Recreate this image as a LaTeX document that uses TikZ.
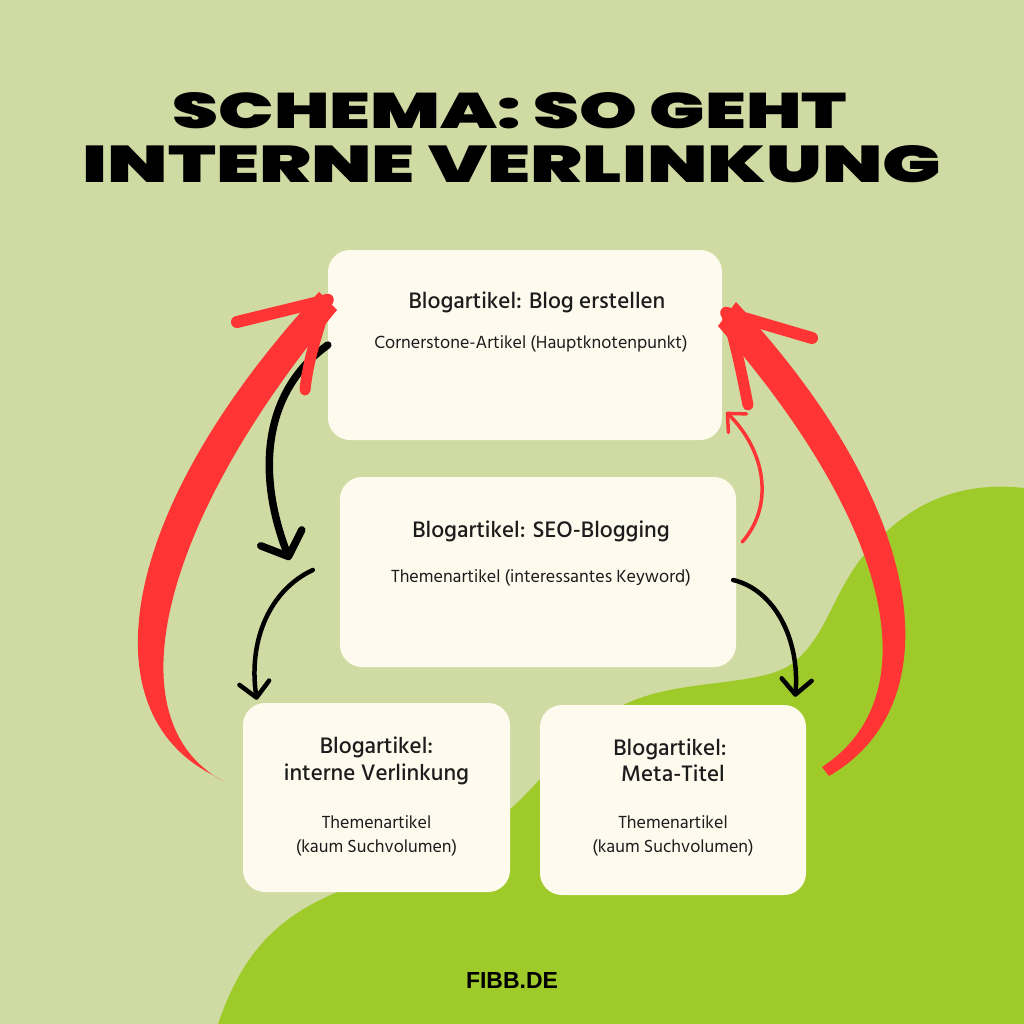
\documentclass[tikz,border=0pt]{standalone}
\usepackage{fontspec}
\usepackage{graphicx}
\usepackage{tikz}
\usetikzlibrary{
        arrows.meta,
        positioning
    }
\setmainfont{Liberation Sans}
\newfontfamily\titlefont{Poppins Black}
\newfontfamily\hindfont{Hind Siliguri}
\newfontfamily\hindmed{Hind Siliguri Medium}
\definecolor{bglight}{HTML}{D0DBA3}
\definecolor{bgbright}{HTML}{9ECB2A}
\definecolor{cream}{HTML}{FEFAEE}
\definecolor{redc}{HTML}{FF3434}
\definecolor{inkc}{HTML}{1C1C1C}
\tikzset{box/.style={fill=cream,rounded corners=22pt,inner sep=0pt}}
\tikzset{head/.style={anchor=base,inner sep=0pt,text=inkc,font=\hindmed\fontsize{23}{27}\selectfont}}
\tikzset{sub/.style={anchor=base,inner sep=0pt,text=inkc,font=\hindfont\fontsize{18}{22}\selectfont}}
\tikzset{blackarrow/.style={draw=black,line width=#1,line cap=round}}
\tikzset{redbrush/.style={draw=redc,line width=#1,line cap=round}}

\begin{document}
\begin{tikzpicture}[x=1pt,y=-1pt]
                \fill[bglight] (0,0) rectangle (1024,1024);
                \fill[bgbright] (1024,488) .. controls (950,480) and (900,510) .. (860,560)
                    .. controls (830,600) and (825,640) .. (790,665)
                    .. controls (760,685) and (690,680) .. (640,698)
                    .. controls (590,715) and (560,760) .. (520,800)
                    .. controls (470,850) and (380,870) .. (320,900)
                    .. controls (270,925) and (240,960) .. (218,1024)
                    -- (1024,1024) -- cycle;
                \useasboundingbox (0,0) rectangle (1024,1024);
                % title
                \node[anchor=base,inner sep=0pt,font=\titlefont] (t1) at (510,129)
                    {\resizebox{674pt}{36pt}{SCHEMA: SO GEHT}};
                \node[anchor=base,inner sep=0pt,font=\titlefont] (t2) at (512,183)
                    {\resizebox{858pt}{37pt}{INTERNE VERLINKUNG}};
                % boxes
                \node[box,minimum width=394pt,minimum height=190pt] (a1) at (525,345) {};
                \node[box,minimum width=396pt,minimum height=190pt] (b1) at (538,572) {};
                \node[box,minimum width=267pt,minimum height=189pt] (c1) at (376.5,797.5) {};
                \node[box,minimum width=266pt,minimum height=190pt] (d1) at (673,800) {};
                \node[head] (a2) at ([xshift=12pt,yshift=-59pt]a1.north) {Blogartikel: Blog erstellen};
                \node[sub]  (a3) at ([xshift=6pt,yshift=-99pt]a1.north) {Cornerstone-Artikel (Hauptknotenpunkt)};
                \node[head] (b2) at ([xshift=3pt,yshift=-61pt]b1.north) {Blogartikel: SEO-Blogging};
                \node[sub]  (b3) at ([xshift=3pt,yshift=-106pt]b1.north) {Themenartikel (interessantes Keyword)};
                \node[head] (c2) at ([yshift=-51pt]c1.north) {Blogartikel:};
                \node[head] (c3) at ([yshift=-78pt]c1.north) {interne Verlinkung};
                \node[sub]  (c4) at ([yshift=-126pt]c1.north) {Themenartikel};
                \node[sub]  (c5) at ([yshift=-150pt]c1.north) {(kaum Suchvolumen)};
                \node[head] (d2) at ([xshift=-3pt,yshift=-51pt]d1.north) {Blogartikel:};
                \node[head] (d3) at ([yshift=-77pt]d1.north) {Meta-Titel};
                \node[sub]  (d4) at ([yshift=-124pt]d1.north) {Themenartikel};
                \node[sub]  (d5) at ([yshift=-148pt]d1.north) {(kaum Suchvolumen)};
                \node[anchor=base,inner sep=0pt,font=\bfseries] (f1) at (512,988)
                    {\resizebox{92pt}{16pt}{FIBB.DE}};
                % arrow ends
                \coordinate (e1) at ([xshift=-50pt,yshift=12pt]b1.west);
                \coordinate (e2) at ([xshift=14pt,yshift=3pt]c1.north west);
                \coordinate (e3) at ([xshift=-11pt,yshift=8pt]d1.north east);
                \coordinate (e4) at ([xshift=4pt,yshift=28pt]a1.south east);
                \coordinate (r1) at ([yshift=-50pt]a1.north west);
                \coordinate (r2) at ([xshift=4pt,yshift=-63pt]a1.north east);
                % black arrows
                \path[blackarrow=7.5pt,-{Straight Barb[round,length=20pt,width=44pt]}]
                    (a1.west) .. controls (265,390) and (255,470) .. (e1);
                \path[blackarrow=4.5pt,-{Straight Barb[round,length=15pt,width=30pt]}]
                    ([xshift=-27pt,yshift=2pt]b1.west) .. controls (270,590) and (248,640) .. (e2);
                \path[blackarrow=4.5pt,-{Straight Barb[round,length=15pt,width=30pt]}]
                    ([xshift=-3pt,yshift=-8pt]b1.east) .. controls (775,590) and (800,640) .. (e3);
                % red arrows
                \path[redbrush=3.5pt,-{Straight Barb[round,length=14pt,width=26pt]}]
                    ([xshift=6pt,yshift=30pt]b1.east) .. controls (775,505) and (765,450) .. (e4);
                \fill[redc] (213,775) .. controls (88,712) and (116,512) .. (319,292)
                    -- (337,310) .. controls (156,528) and (114,722) .. (223,781) -- cycle;
                \draw[redbrush=12pt] (r1) -- (237,322);
                \draw[redbrush=11pt] (r1) .. controls (318,330) and (308,360) .. (305,390);
                \fill[redc] (829,776) .. controls (952,705) and (930,510) .. (736,302)
                    -- (718,326) .. controls (896,530) and (928,698) .. (822,767) -- cycle;
                \draw[redbrush=12pt] (r2) -- (812,338);
                \draw[redbrush=11pt] (r2) .. controls (736,345) and (742,375) .. (748,405);
            \end{tikzpicture}
\end{document}
